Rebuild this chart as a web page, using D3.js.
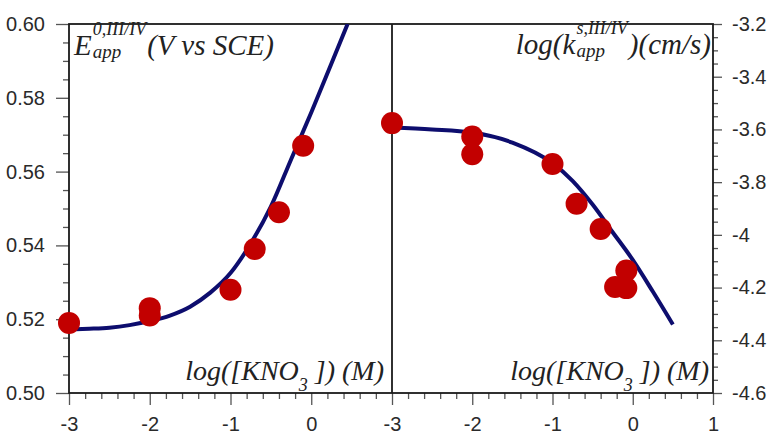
<!DOCTYPE html>
<html>
<head>
<meta charset="utf-8">
<script src="https://cdn.jsdelivr.net/npm/d3@7"></script>
<style>
  html, body { margin: 0; padding: 0; background: #fff; }
  svg { display: block; }
  .tick text { font-family: "Liberation Sans", Arial, sans-serif; font-size: 20px; fill: #2a2a2a; }
  .ttl { font-family: "Liberation Serif", "Times New Roman", serif; font-style: italic; fill: #222; }
</style>
</head>
<body>
<svg id="chart" width="771" height="436"></svg>
<script>
// ---------- data ----------
const leftPointsX = [-3, -2, -2, -1, -0.7, -0.4, -0.1];
const leftPointsY = [0.519, 0.523, 0.521, 0.528, 0.539, 0.549, 0.567];
const leftFitX = [-3, -2.75, -2.5, -2.25, -2, -1.75, -1.5, -1.25, -1, -0.75, -0.5, -0.25, 0, 0.25, 0.45];
const leftFitY = [0.5172, 0.5174, 0.5177, 0.5184, 0.5195, 0.5210, 0.5234, 0.5272, 0.5325, 0.5405, 0.5505, 0.5633, 0.5760, 0.5893, 0.6000];

const rightPointsX = [-3, -2, -2, -1, -0.7, -0.4, -0.08, -0.22, -0.08];
const rightPointsY = [-3.576, -3.627, -3.694, -3.731, -3.882, -3.978, -4.135, -4.198, -4.202];
const rightFitX = [-3, -2.5, -2, -1.5, -1, -0.75, -0.5, -0.25, 0, 0.25, 0.5];
const rightFitY = [-3.593, -3.600, -3.612, -3.650, -3.728, -3.795, -3.885, -3.990, -4.095, -4.215, -4.340];

const leftXTicks = [-3, -2, -1, 0];
const rightXTicks = [-3, -2, -1, 0, 1];
const leftYTicks = [0.50, 0.52, 0.54, 0.56, 0.58, 0.60];
const rightYTicks = [-4.6, -4.4, -4.2, -4.0, -3.8, -3.6, -3.4, -3.2];

// ---------- layout ----------
const L = 69, M = 392, R = 713, T = 24, B = 393;
const svg = d3.select("#chart");
const loc = d3.formatLocale({ decimal: ".", thousands: ",", grouping: [3], currency: ["", ""], minus: "-" });

const xL = d3.scaleLinear().domain([-3, 1]).range([L, M]);
const xR = d3.scaleLinear().domain([-3, 1]).range([M, R]);
const yL = d3.scaleLinear().domain([0.5, 0.6]).range([B, T]);
const yR = d3.scaleLinear().domain([-4.6, -3.2]).range([B, T]);

const tickColor = "#555";
function styleAxis(g) {
  g.select(".domain").remove();
  g.selectAll(".tick line").attr("stroke", tickColor).attr("stroke-width", 1.3);
}

// minor ticks
const minorX = d3.range(-3, 1.0001, 0.2).map(v => +v.toFixed(2)).filter(v => Math.abs(v - Math.round(v)) > 1e-6);
const minorYL = d3.range(0.5, 0.6001, 0.005).map(v => +v.toFixed(3)).filter(v => Math.abs(v * 50 - Math.round(v * 50)) > 1e-6);
const minorYR = d3.range(-4.6, -3.1999, 0.05).map(v => +v.toFixed(2)).filter(v => Math.abs(v * 5 - Math.round(v * 5)) > 1e-6);

// bottom axes
svg.append("g").attr("transform", `translate(0,${B})`)
  .call(d3.axisBottom(xL).tickValues(minorX).tickSize(6).tickFormat("")).call(styleAxis);
svg.append("g").attr("transform", `translate(0,${B})`)
  .call(d3.axisBottom(xR).tickValues(minorX).tickSize(6).tickFormat("")).call(styleAxis);
svg.append("g").attr("transform", `translate(0,${B})`)
  .call(d3.axisBottom(xL).tickValues(leftXTicks).tickSize(12).tickPadding(12).tickFormat(loc.format("d"))).call(styleAxis);
svg.append("g").attr("transform", `translate(0,${B})`)
  .call(d3.axisBottom(xR).tickValues(rightXTicks).tickSize(12).tickPadding(12).tickFormat(loc.format("d"))).call(styleAxis);

// left y axis
svg.append("g").attr("transform", `translate(${L},0)`)
  .call(d3.axisLeft(yL).tickValues(minorYL).tickSize(6).tickFormat("")).call(styleAxis);
svg.append("g").attr("transform", `translate(${L},0)`)
  .call(d3.axisLeft(yL).tickValues(leftYTicks).tickSize(13).tickPadding(11).tickFormat(loc.format(".2f"))).call(styleAxis);

// right y axis
svg.append("g").attr("transform", `translate(${R},0)`)
  .call(d3.axisRight(yR).tickValues(minorYR).tickSize(5).tickFormat("")).call(styleAxis);
svg.append("g").attr("transform", `translate(${R},0)`)
  .call(d3.axisRight(yR).tickValues(rightYTicks).tickSize(9).tickPadding(10).tickFormat(d => loc.format("")(+d.toFixed(1)))).call(styleAxis);

// frame
svg.append("rect").attr("x", L).attr("y", T).attr("width", R - L).attr("height", B - T)
  .attr("fill", "none").attr("stroke", "#1a1a1a").attr("stroke-width", 1.8);
svg.append("line").attr("x1", M).attr("x2", M).attr("y1", T).attr("y2", B)
  .attr("stroke", "#1a1a1a").attr("stroke-width", 1.8);

// clip for left panel curve
const defs = svg.append("defs");
defs.append("clipPath").attr("id", "clipL").append("rect")
  .attr("x", L).attr("y", T).attr("width", M - L).attr("height", B - T);

const lineColor = "#0d0d6e";
const ptColor = "#c20000";

const leftFit = leftFitX.map((x, i) => [x, leftFitY[i]]);
const rightFit = rightFitX.map((x, i) => [x, rightFitY[i]]);

svg.append("path").datum(leftFit).attr("clip-path", "url(#clipL)")
  .attr("d", d3.line().x(d => xL(d[0])).y(d => yL(d[1])).curve(d3.curveMonotoneX))
  .attr("fill", "none").attr("stroke", lineColor).attr("stroke-width", 4);
svg.append("path").datum(rightFit)
  .attr("d", d3.line().x(d => xR(d[0])).y(d => yR(d[1])).curve(d3.curveMonotoneX))
  .attr("fill", "none").attr("stroke", lineColor).attr("stroke-width", 4);

svg.append("g").selectAll("circle").data(leftPointsX.map((x, i) => [x, leftPointsY[i]]))
  .join("circle").attr("cx", d => xL(d[0])).attr("cy", d => yL(d[1])).attr("r", 11).attr("fill", ptColor);
svg.append("g").selectAll("circle").data(rightPointsX.map((x, i) => [x, rightPointsY[i]]))
  .join("circle").attr("cx", d => xR(d[0])).attr("cy", d => yR(d[1])).attr("r", 11).attr("fill", ptColor);

// ---------- titles ----------
function scriptLabel(x0, base, main1, sub, sup, main2) {
  const g = svg.append("g");
  const t1 = g.append("text").attr("class", "ttl").attr("x", x0).attr("y", base).attr("font-size", 29).text(main1);
  const w1 = t1.node().getComputedTextLength();
  const xs = x0 + w1 + 1;
  const ts = g.append("text").attr("class", "ttl").attr("x", xs).attr("y", base + 3).attr("font-size", 19).text(sub);
  const tp = g.append("text").attr("class", "ttl").attr("x", xs).attr("y", base - 20).attr("font-size", 18).text(sup);
  const w2 = Math.max(ts.node().getComputedTextLength(), tp.node().getComputedTextLength());
  const t2 = g.append("text").attr("class", "ttl").attr("x", xs + w2 + 1).attr("y", base).attr("font-size", 29).text(main2);
  return { g, width: xs + w2 + 1 + t2.node().getComputedTextLength() - x0 };
}

scriptLabel(74, 55, "E", "app", "0,III/IV", "(V vs SCE)");
const rt = scriptLabel(0, 54, "log(k", "app", "s,III/IV", ")(cm/s)");
rt.g.attr("transform", `translate(${711 - rt.width},0)`);

function kno3Label(xEnd, base) {
  const t = svg.append("text").attr("class", "ttl").attr("x", xEnd).attr("y", base)
    .attr("text-anchor", "end").attr("font-size", 28);
  t.append("tspan").text("log([KNO");
  t.append("tspan").attr("font-size", 18).attr("dy", 11).text("3");
  t.append("tspan").attr("dy", -11).text(" ]) (M)");
}
kno3Label(384, 380);
kno3Label(709, 380);
</script>
</body>
</html>
